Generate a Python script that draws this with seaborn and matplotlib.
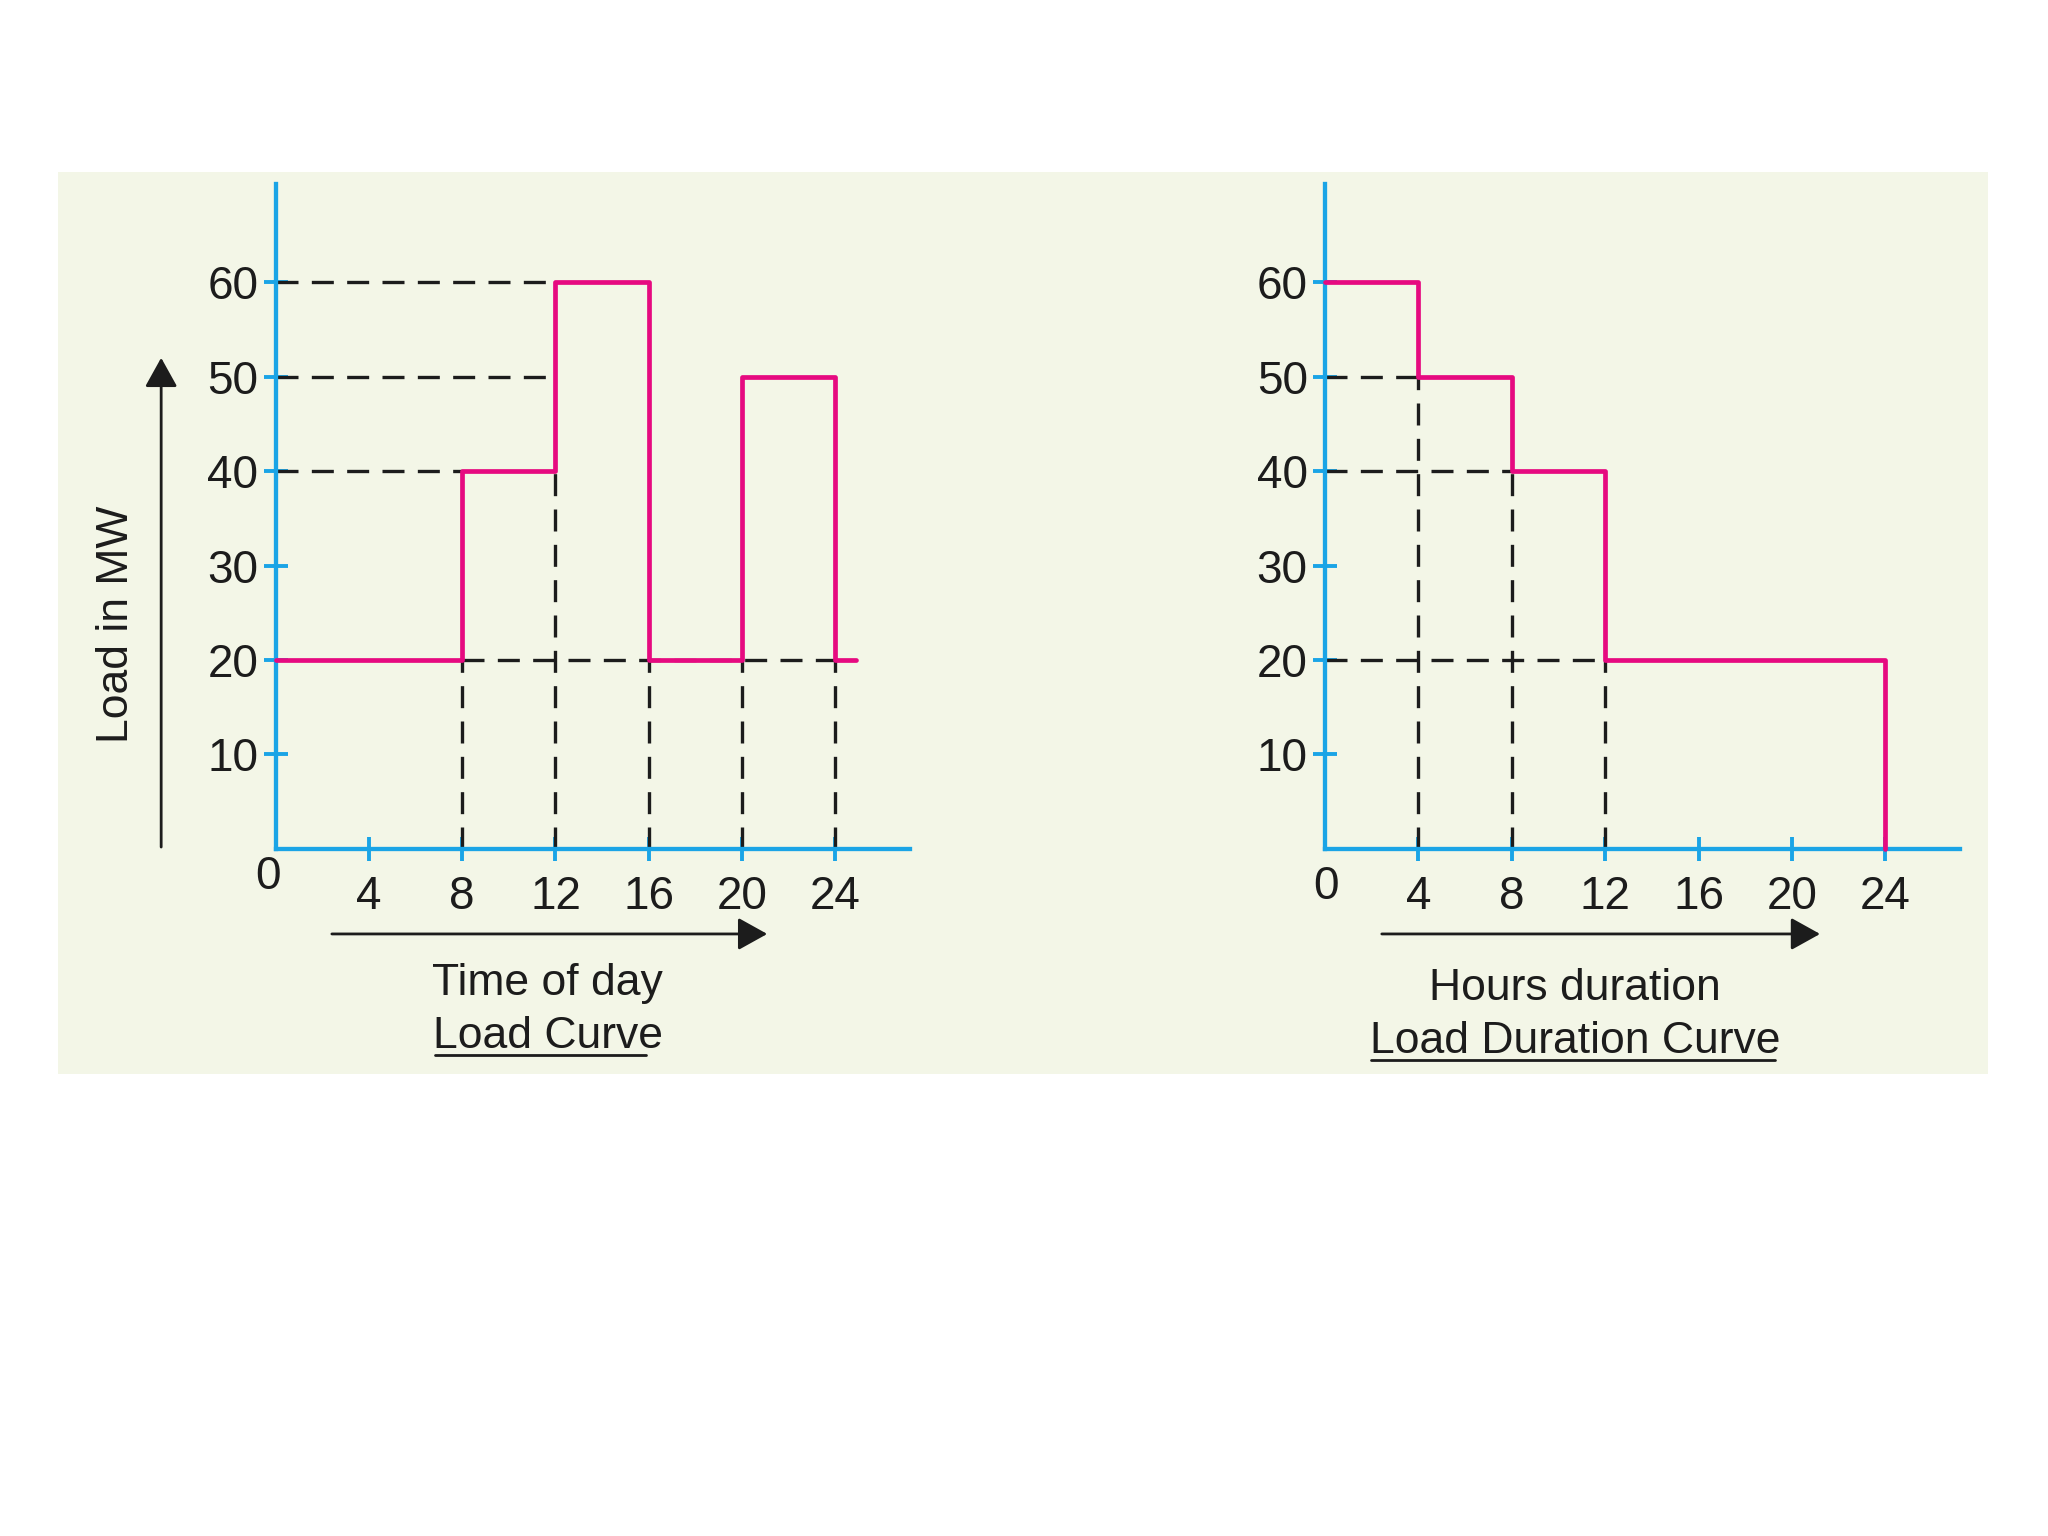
import numpy as np
import pandas as pd
import matplotlib.pyplot as plt
import seaborn as sns
from matplotlib.patches import Rectangle

# load curve: time of day (h) vs load (MW), step held after each point
load_hours = [0, 8, 12, 16, 20, 24, 24.9]
load_mw = [20, 40, 60, 20, 50, 20, 20]

# load duration curve
dur_hours = [0, 4, 8, 12, 24, 24]
dur_mw = [60, 50, 40, 20, 20, 0]

x_ticks = [4, 8, 12, 16, 20, 24]
y_ticks = [10, 20, 30, 40, 50, 60]

# dashed guide lines: (level, start, end)
load_hguides = [(60, 0, 12), (50, 0, 12), (40, 0, 8), (20, 8, 24)]
load_vguides = [(8, 0, 20), (12, 0, 40), (16, 0, 20), (20, 0, 20), (24, 0, 20)]
dur_hguides = [(50, 0, 4), (40, 0, 8), (20, 0, 12)]
dur_vguides = [(4, 0, 50), (8, 0, 40), (12, 0, 20)]

BLUE = '#1AA4E6'
PINK = '#E60A80'
TXT = '#1c1c1c'
PANEL = '#F3F6E7'
DASH = (0, (6.6, 4.0))

sns.set_theme(style='white')
plt.rcParams['font.family'] = ['Liberation Sans', 'DejaVu Sans']

fig = plt.figure(figsize=(20.48, 15.36), dpi=100)
fig.patch.set_facecolor('white')
fig.patches.append(Rectangle((0.0282, 0.3008), 0.9424, 0.5874, transform=fig.transFigure,
                             facecolor=PANEL, edgecolor='none', zorder=-10))

ax1 = fig.add_axes([0.1346, 0.4473, 0.3097, 0.4329])
ax2 = fig.add_axes([0.6470, 0.4473, 0.3101, 0.4329])


def style_axes(ax):
    ax.set_facecolor('none')
    ax.set_xlim(0, 27.2)
    ax.set_ylim(0, 70.4)
    for s in ['top', 'right']:
        ax.spines[s].set_visible(False)
    for s in ['left', 'bottom']:
        ax.spines[s].set_color(BLUE)
        ax.spines[s].set_linewidth(3.1)
        ax.spines[s].set_capstyle('projecting')
    ax.set_xticks(x_ticks)
    ax.set_yticks(y_ticks)
    ax.tick_params(axis='both', direction='inout', length=17, width=2.8,
                   color=BLUE, labelsize=33, labelcolor=TXT, left=True, bottom=True)
    ax.tick_params(axis='x', pad=10)
    ax.tick_params(axis='y', pad=4)
    ax.set_xlabel('')
    ax.set_ylabel('')
    ax.grid(False)


def guides(ax, hg, vg):
    for y, x0, x1 in hg:
        ax.hlines(y, x0, x1, colors=TXT, linestyles=DASH, linewidth=2.4, zorder=2)
    for x, y0, y1 in vg:
        ax.vlines(x, y0, y1, colors=TXT, linestyles=DASH, linewidth=2.4, zorder=2)


def arrow(ax, start, end):
    ax.annotate('', xy=end, xytext=start, xycoords='data', annotation_clip=False,
                arrowprops=dict(arrowstyle='-|>,head_length=0.9,head_width=0.5',
                                mutation_scale=20, lw=2, color=TXT,
                                shrinkA=0, shrinkB=0))


# ---- Load curve ----
guides(ax1, load_hguides, load_vguides)
sns.lineplot(x=load_hours, y=load_mw, ax=ax1, color=PINK, linewidth=3.4,
             drawstyle='steps-post', estimator=None, sort=False, zorder=3)
style_axes(ax1)
ax1.text(-0.33, -3.0, '0', fontsize=33, color=TXT, ha='center', va='center')
arrow(ax1, (2.41, -9.0), (21.08, -9.0))
arrow(ax1, (-4.91, 0.2), (-4.91, 52.0))
ax1.text(-6.81, 23.8, 'Load in MW', fontsize=32, color=TXT, rotation=90,
         ha='center', va='center')
ax1.text(11.66, -15.5, 'Time of day', fontsize=32, color=TXT, ha='center', va='baseline')
ax1.text(11.66, -21.1, 'Load Curve', fontsize=32, color=TXT, ha='center', va='baseline')
ax1.plot([6.82, 15.9], [-21.8, -21.8], color=TXT, lw=2, clip_on=False)

# ---- Load duration curve ----
guides(ax2, dur_hguides, dur_vguides)
sns.lineplot(x=dur_hours, y=dur_mw, ax=ax2, color=PINK, linewidth=3.4,
             drawstyle='steps-post', estimator=None, sort=False, zorder=3)
style_axes(ax2)
ax2.text(0.04, -4.0, '0', fontsize=33, color=TXT, ha='center', va='center')
arrow(ax2, (2.43, -9.0), (21.2, -9.0))
ax2.text(10.7, -16.0, 'Hours duration', fontsize=32, color=TXT, ha='center', va='baseline')
ax2.text(10.7, -21.6, 'Load Duration Curve', fontsize=32, color=TXT, ha='center', va='baseline')
ax2.plot([1.97, 19.25], [-22.3, -22.3], color=TXT, lw=2, clip_on=False)

for ax in (ax1, ax2):
    for line in ax.lines:
        line.set_clip_on(False)

fig.savefig('out.png', dpi=100, facecolor='white')
